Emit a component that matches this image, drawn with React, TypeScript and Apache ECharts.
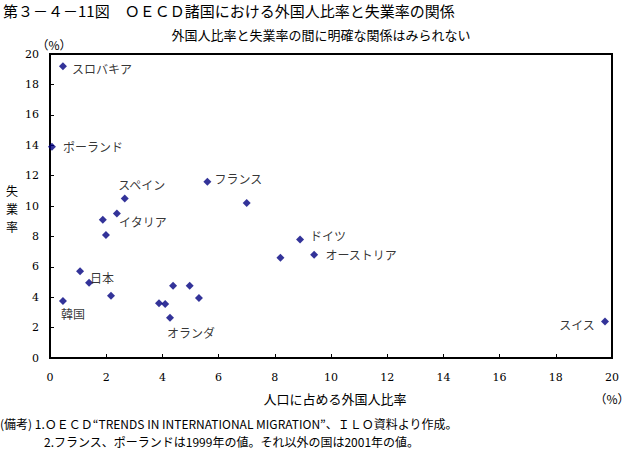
import React, { useEffect, useRef } from "react";
import * as echarts from "echarts";

const countryNames: string[] = [
  "スロバキア", "ポーランド", "スペイン", "イタリア", "", "", "フランス", "",
  "ドイツ", "", "オーストリア", "", "日本", "", "韓国", "", "", "", "", "",
  "オランダ", "スイス",
];
const foreignRatio: number[] = [
  0.46, 0.07, 2.66, 2.38, 1.88, 1.99, 5.6, 7.0, 8.9, 8.2, 9.4, 1.07, 1.39, 2.17,
  0.46, 3.88, 4.1, 4.38, 4.97, 5.3, 4.27, 19.75,
];
const unemploymentRate: number[] = [
  19.2, 13.9, 10.5, 9.5, 9.1, 8.1, 11.6, 10.2, 7.8, 6.6, 6.8, 5.7, 4.95, 4.1,
  3.75, 3.6, 3.55, 4.75, 4.75, 3.95, 2.65, 2.4,
];
// label offsets (text centre relative to the marker)
const labelOffsets: [number, number][] = [
  [39, 2], [41, 0], [17, -14], [26, 8], [0, 0], [0, 0], [31, -3], [0, 0],
  [28, -4], [0, 0], [47, 0], [0, 0], [13, -5], [0, 0], [10, 12], [0, 0],
  [0, 0], [0, 0], [0, 0], [0, 0], [21, 15], [-28, 3],
];
const xTicks = { min: 0, max: 20, interval: 2 };
const yTicks = { min: 0, max: 20, interval: 2 };
const yAxisNameChars: string[] = ["失", "業", "率"];

const JP = '"Noto Sans CJK JP", sans-serif';
const NUM = '"DejaVu Serif", serif';

export default function App() {
  const ref = useRef<HTMLDivElement>(null);
  useEffect(() => {
    if (!ref.current) return;
    const chart = echarts.init(ref.current, null, { renderer: "svg" });
    const data = foreignRatio.map((x, i) => ({
      value: [x, unemploymentRate[i]],
      name: countryNames[i],
      label: {
        show: countryNames[i] !== "",
        position: "inside",
        offset: labelOffsets[i],
        formatter: countryNames[i],
      },
    }));
    const yNameTexts = yAxisNameChars.map((c, i) => ({
      type: "text",
      x: 12,
      y: 190 + i * 18,
      style: {
        text: c,
        fontSize: 12,
        fontFamily: JP,
        fill: "#000",
        align: "center",
        verticalAlign: "middle",
      },
    }));
    chart.setOption({
      animation: false,
      backgroundColor: "#fff",
      grid: {
        left: 50,
        right: 30,
        top: 54,
        bottom: 105,
        show: true,
        borderColor: "#000",
        borderWidth: 2,
      },
      xAxis: {
        type: "value",
        min: xTicks.min,
        max: xTicks.max,
        interval: xTicks.interval,
        splitLine: { show: false },
        axisLine: { show: true, lineStyle: { color: "#000", width: 2 } },
        axisTick: { show: true, inside: true, length: 4, lineStyle: { color: "#000" } },
        axisLabel: { color: "#000", fontFamily: NUM, fontSize: 11, margin: 14 },
      },
      yAxis: {
        type: "value",
        min: yTicks.min,
        max: yTicks.max,
        interval: yTicks.interval,
        splitLine: { show: false },
        axisLine: { show: true, lineStyle: { color: "#000", width: 2 } },
        axisTick: { show: true, inside: true, length: 4, lineStyle: { color: "#000" } },
        axisLabel: { color: "#000", fontFamily: NUM, fontSize: 11, margin: 11 },
      },
      series: [
        {
          type: "scatter",
          symbol: "diamond",
          symbolSize: 8,
          itemStyle: { color: "#000080" },
          label: { color: "#000", fontFamily: JP, fontSize: 12 },
          data,
        },
      ],
      graphic: [
        {
          type: "text",
          left: 3,
          top: 3,
          style: {
            text: "第３－４－11図　ＯＥＣＤ諸国における外国人比率と失業率の関係",
            font: `15px ${JP}`,
            fill: "#000",
          },
        },
        {
          type: "text",
          x: 321,
          y: 34,
          style: {
            text: "外国人比率と失業率の間に明確な関係はみられない",
            font: `13px ${JP}`,
            fill: "#000",
            align: "center",
            verticalAlign: "middle",
          },
        },
        {
          type: "text",
          x: 54,
          y: 44,
          style: { text: "（%）", font: `12px ${JP}`, fill: "#000", align: "center", verticalAlign: "middle" },
        },
        ...yNameTexts,
        {
          type: "text",
          x: 335,
          y: 398,
          style: {
            text: "人口に占める外国人比率",
            font: `13px ${JP}`,
            fill: "#000",
            align: "center",
            verticalAlign: "middle",
          },
        },
        {
          type: "text",
          x: 612,
          y: 398,
          style: { text: "（%）", font: `12px ${JP}`, fill: "#000", align: "center", verticalAlign: "middle" },
        },
        {
          type: "text",
          x: 0,
          y: 423,
          style: {
            text: "(備考) 1.ＯＥＣＤ“TRENDS IN INTERNATIONAL MIGRATION”、ＩＬＯ資料より作成。",
            font: `12px ${JP}`,
            fill: "#000",
            verticalAlign: "middle",
          },
        },
        {
          type: "text",
          x: 44,
          y: 441,
          style: {
            text: "2.フランス、ポーランドは1999年の値。それ以外の国は2001年の値。",
            font: `12px ${JP}`,
            fill: "#000",
            verticalAlign: "middle",
          },
        },
      ],
    });
    return () => chart.dispose();
  }, []);
  return (
    <div
      ref={ref}
      style={{ position: "fixed", left: 0, top: 0, width: 642, height: 463, background: "#fff" }}
    />
  );
}
